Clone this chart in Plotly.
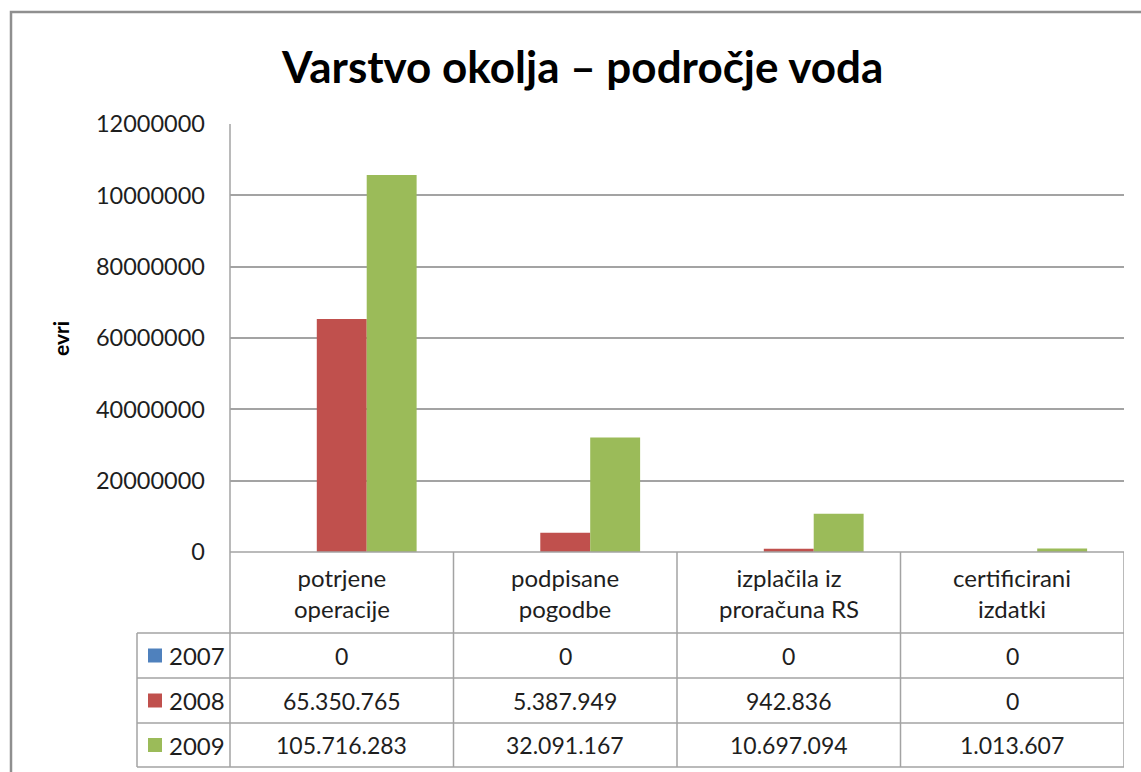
import plotly.graph_objects as go

# ---- data ----
categories = ["potrjene<br>operacije", "podpisane<br>pogodbe", "izplačila iz<br>proračuna RS", "certificirani<br>izdatki"]
years = ["2007", "2008", "2009"]
values_2007 = [0, 0, 0, 0]
values_2008 = [65350765, 5387949, 942836, 0]
values_2009 = [105716283, 32091167, 10697094, 1013607]
y_tickvals = [0, 20000000, 40000000, 60000000, 80000000, 100000000, 120000000]
y_ticktext = ["0", "20000000", "40000000", "60000000", "80000000", "10000000", "12000000"]
title_text = "Varstvo okolja – področje voda"
y_title = "evri"

series = [values_2007, values_2008, values_2009]
colors = ["#4F81BD", "#C0504D", "#9BBB59"]

W, H = 1141, 772
FONT = "Lato"
GRID = "#a3a3a3"
TXT = "#1e1e1e"


def px(x):
    return x / W


def py(y):
    return 1 - y / H


def fmt(v):
    return f"{v:,}".replace(",", ".")


# geometry (pixels)
X0, X1 = 230, 1124
Y_TOP, Y_ZERO = 124, 552
ROWS = [633, 678, 723, 767]
LEG_X = 137

fig = go.Figure()
for name, vals, col in zip(years, series, colors):
    fig.add_trace(go.Bar(x=list(range(len(categories))), y=vals, name=name,
                         marker=dict(color=col, line=dict(width=0)), showlegend=False))

fig.update_layout(
    width=W, height=H,
    margin=dict(l=0, r=0, t=0, b=0, pad=0, autoexpand=False),
    paper_bgcolor="white", plot_bgcolor="white",
    barmode="group", bargap=0.33, bargroupgap=0,
    font=dict(family=FONT, color=TXT, size=22),
    xaxis=dict(domain=[px(X0), px(X1)], range=[-0.5, len(categories) - 0.5], automargin=False,
               showticklabels=False, showgrid=False, zeroline=False, showline=False),
    yaxis=dict(domain=[py(Y_ZERO), py(Y_TOP)], range=[0, 120000000], automargin=False,
               tickvals=y_tickvals, ticktext=y_ticktext, tickfont=dict(size=23.5, color=TXT),
               ticklabelstandoff=24,
               showgrid=True, gridcolor=GRID, gridwidth=1.5, zeroline=False, showline=False),
)

shapes = []
# outer chart frame
shapes.append(dict(type="rect", xref="paper", yref="paper", x0=px(11), x1=px(1160), y0=py(12), y1=py(800),
                   line=dict(color="#8f8f8f", width=2.5), fillcolor="rgba(0,0,0,0)", layer="below"))
# y axis line + continues down through table
shapes.append(dict(type="line", xref="paper", yref="paper", x0=px(X0), x1=px(X0), y0=py(Y_TOP), y1=py(ROWS[-1]),
                   line=dict(color=GRID, width=1.5)))
# zero line
shapes.append(dict(type="line", xref="paper", yref="paper", x0=px(X0), x1=px(X1), y0=py(Y_ZERO), y1=py(Y_ZERO),
                   line=dict(color=GRID, width=1.5)))
# category separators (data coords)
for i in range(1, len(categories) + 1):
    shapes.append(dict(type="line", xref="x", yref="paper", x0=i - 0.5, x1=i - 0.5, y0=py(Y_ZERO), y1=py(ROWS[-1]),
                       line=dict(color=GRID, width=1.5)))
# table horizontal lines
for r in ROWS:
    shapes.append(dict(type="line", xref="paper", yref="paper", x0=px(LEG_X), x1=px(X1), y0=py(r), y1=py(r),
                       line=dict(color=GRID, width=1.5)))
# legend column left border
shapes.append(dict(type="line", xref="paper", yref="paper", x0=px(LEG_X), x1=px(LEG_X), y0=py(ROWS[0]), y1=py(ROWS[-1]),
                   line=dict(color=GRID, width=1.5)))

annotations = []
# title
annotations.append(dict(text=f"<b>{title_text}</b>", xref="paper", yref="paper", x=px(582), y=py(66),
                        showarrow=False, xanchor="center", yanchor="middle", font=dict(size=44, color="black")))
# y title
annotations.append(dict(text=f"<b>{y_title}</b>", xref="paper", yref="paper", x=px(60), y=py(339),
                        showarrow=False, textangle=-90, xanchor="center", yanchor="middle", font=dict(size=21, color="black")))
# category labels
for i, c in enumerate(categories):
    annotations.append(dict(text=c, xref="x", yref="paper", x=i, y=py(593), showarrow=False,
                            xanchor="center", yanchor="middle", font=dict(size=24, color=TXT)))
# table rows
for ri, (name, vals, col) in enumerate(zip(years, series, colors)):
    yc = (ROWS[ri] + ROWS[ri + 1]) / 2
    shapes.append(dict(type="rect", xref="paper", yref="paper", x0=px(148), x1=px(162), y0=py(yc - 7), y1=py(yc + 7),
                       fillcolor=col, line=dict(width=0)))
    annotations.append(dict(text=name, xref="paper", yref="paper", x=px(167), y=py(yc), showarrow=False,
                            xanchor="left", yanchor="middle", font=dict(size=24, color=TXT)))
    for i, v in enumerate(vals):
        annotations.append(dict(text=fmt(v), xref="x", yref="paper", x=i, y=py(yc), showarrow=False,
                                xanchor="center", yanchor="middle", font=dict(size=23, color=TXT)))

fig.update_layout(shapes=shapes, annotations=annotations)

fig.write_html("out.html", config={"displayModeBar": False},
               post_script="document.body.style.margin='0';document.body.style.overflow='hidden';")
